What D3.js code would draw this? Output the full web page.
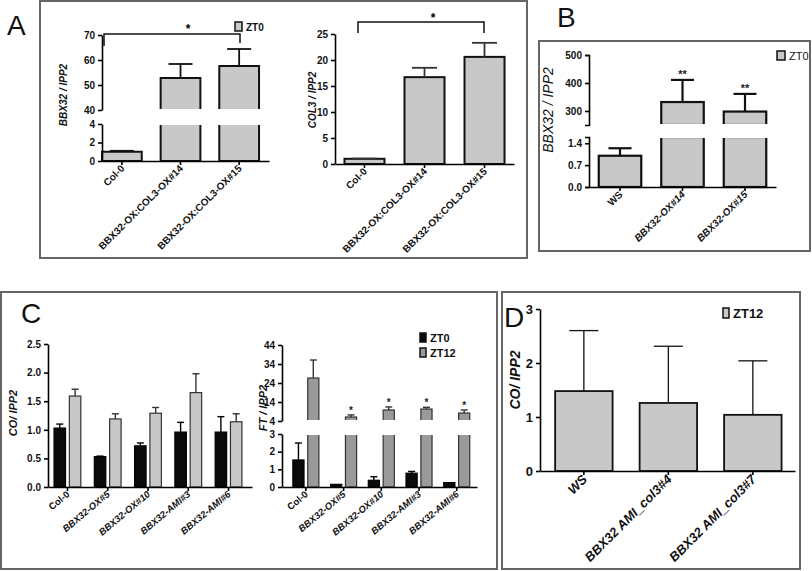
<!DOCTYPE html>
<html lang="en">
<head>
<meta charset="UTF-8">
<title>BBX32 / COL3 expression</title>
<script src="https://cdn.jsdelivr.net/npm/d3@7"></script>
<style>
  body { margin: 0; background: #fff; }
  svg { display: block; font-family: Arial, "Liberation Sans", sans-serif; }
</style>
</head>
<body>
<div id="chart"></div>
<script>
// panel A - double overexpressors, ZT0
const aLines = ["Col-0", "BBX32-OX:COL3-OX#14", "BBX32-OX:COL3-OX#15"];
const aBbx32 = [1.0, 52.8, 57.6];
const aBbx32Err = [0.1, 5.6, 6.8];
const aCol3 = [1.0, 16.7, 20.6];
const aCol3Err = [0.05, 1.8, 2.7];
const aBbx32TicksLow = [0, 2, 4];
const aBbx32TicksHigh = [40, 50, 60, 70];
const aCol3Ticks = [0, 5, 10, 15, 20, 25];

// panel B - BBX32 in OX lines, ZT0
const bLines = ["WS", "BBX32-OX#14", "BBX32-OX#15"];
const bBbx32 = [1.0, 332, 298];
const bBbx32Err = [0.24, 79, 63];
const bStars = ["", "**", "**"];
const bTicksLow = [0, 0.7, 1.4];
const bTicksHigh = [300, 400, 500];

// panel C - CO and FT at ZT0 / ZT12
const cLines = ["Col-0", "BBX32-OX#5", "BBX32-OX#10", "BBX32-AMI#3", "BBX32-AMI#6"];
const cTimes = ["ZT0", "ZT12"];
const cCoZT0 = [1.03, 0.53, 0.72, 0.96, 0.96];
const cCoZT0Err = [0.07, 0.01, 0.05, 0.17, 0.27];
const cCoZT12 = [1.59, 1.19, 1.29, 1.65, 1.14];
const cCoZT12Err = [0.12, 0.09, 0.10, 0.33, 0.14];
const cFtZT0 = [1.53, 0.15, 0.38, 0.78, 0.25];
const cFtZT0Err = [0.96, 0, 0.2, 0.1, 0];
const cFtZT12 = [26.6, 6.1, 9.8, 10.3, 8.2];
const cFtZT12Err = [9.5, 1.1, 1.6, 0.9, 1.6];
const cFtStars = ["", "*", "*", "*", "*"];
const cCoTicks = [0, 0.5, 1.0, 1.5, 2.0, 2.5];
const cFtTicksLow = [0, 1, 2, 3];
const cFtTicksHigh = [4, 14, 24, 34, 44];

// panel D - CO in AMI lines, ZT12
const dLines = ["WS", "BBX32 AMI_col3#4", "BBX32 AMI_col3#7"];
const dCo = [1.48, 1.26, 1.04];
const dCoErr = [1.12, 1.05, 1.0];
const dTicks = [0, 1, 2, 3];

const svg = d3.select("#chart").append("svg")
    .attr("width", 812)
    .attr("height", 571);
svg.append("rect").attr("width", 812).attr("height", 571).attr("fill", "#fff");

// panel frames
[[40, 1, 487, 257], [539, 41, 271, 210], [1, 292, 496, 277], [502, 292, 298, 277]].forEach(b => {
    svg.append("rect")
        .attr("x", b[0]).attr("y", b[1]).attr("width", b[2]).attr("height", b[3])
        .attr("fill", "none").attr("stroke", "#666").attr("stroke-width", 2);
});

// panel letters
[["A", 7, 35], ["B", 557, 27], ["C", 21, 323], ["D", 504, 327]].forEach(l => {
    svg.append("text").attr("x", l[1]).attr("y", l[2])
        .attr("font-size", 28).attr("fill", "#111").text(l[0]);
});

function styleAxis(ax, size) {
    ax.attr("font-family", null);
    ax.select(".domain").attr("stroke-width", 1.6);
    ax.selectAll(".tick line").attr("stroke-width", 1.6);
    ax.selectAll(".tick text").attr("font-size", size).attr("font-weight", "bold").attr("fill", "#111");
}

// generic bar chart, optionally with a broken y axis
function barChart(o) {
    const g = svg.append("g");
    const x = d3.scaleBand().domain(o.groups).range(o.xRange)
        .paddingInner(o.padIn).paddingOuter(o.padOut).align(o.align);
    const sub = d3.scaleBand().domain(o.series.map(s => s.key))
        .range([0, x.bandwidth()]).paddingInner(o.subPad || 0);
    const segs = o.segments.map(s => Object.assign({}, s, {
        y: d3.scaleLinear().domain(s.domain).range(s.range)
    }));
    const segFor = v => segs.find(s => v <= s.domain[1]) || segs[segs.length - 1];
    const base = segs[0].y(0);

    // bars
    o.series.forEach(s => {
        o.groups.forEach((grp, i) => {
            const v = s.values[i];
            const bx = x(grp) + sub(s.key);
            segs.forEach((seg, k) => {
                if (k > 0 && v <= seg.domain[0]) return;
                const top = seg.y(Math.min(v, seg.domain[1]));
                g.append("rect")
                    .attr("x", bx).attr("y", top)
                    .attr("width", sub.bandwidth())
                    .attr("height", seg.y(seg.domain[0]) - top)
                    .attr("fill", s.fill).attr("stroke", s.stroke)
                    .attr("stroke-width", o.barStroke);
            });
        });
    });

    // error bars (upper only) and stars
    o.series.forEach(s => {
        o.groups.forEach((grp, i) => {
            const v = s.values[i], e = s.errs[i];
            const cx = x(grp) + sub(s.key) + sub.bandwidth() / 2;
            const y0 = segFor(v).y(v);
            const y1 = segFor(v + e).y(v + e);
            if (e > 0) {
                g.append("line").attr("x1", cx).attr("x2", cx).attr("y1", y0).attr("y2", y1)
                    .attr("stroke", s.errColor).attr("stroke-width", o.errStroke);
                g.append("line").attr("x1", cx - o.cap / 2).attr("x2", cx + o.cap / 2)
                    .attr("y1", y1).attr("y2", y1)
                    .attr("stroke", s.errColor).attr("stroke-width", o.errStroke);
            }
            if (s.stars && s.stars[i]) {
                g.append("text").attr("x", cx).attr("y", y1 + o.starDy)
                    .attr("text-anchor", "middle").attr("font-size", o.starSize)
                    .attr("font-weight", "bold").attr("fill", "#222").text(s.stars[i]);
            }
        });
    });

    // white gap for the axis break
    for (let k = 0; k + 1 < segs.length; k++) {
        const yTop = segs[k + 1].range[0], yBot = segs[k].range[1];
        g.append("rect")
            .attr("x", o.xRange[0] + 1).attr("y", yTop - 1)
            .attr("width", o.xRange[1] - o.xRange[0]).attr("height", yBot - yTop + 2)
            .attr("fill", "#fff");
    }

    // y axes
    segs.forEach(seg => {
        const ax = g.append("g").attr("transform", `translate(${o.xRange[0]},0)`)
            .call(d3.axisLeft(seg.y).tickValues(seg.ticks).tickSize(4)
                .tickSizeOuter(o.outer || 0).tickFormat(seg.fmt || d3.format("")));
        styleAxis(ax, o.tickFont);
    });

    // x axis
    const xa = g.append("g").attr("transform", `translate(0,${base})`)
        .call(d3.axisBottom(x).tickSize(4).tickSizeOuter(0));
    styleAxis(xa, o.labelFont);
    xa.selectAll(".tick text")
        .attr("x", 0).attr("y", 0).attr("dy", o.labelDy)
        .attr("transform", `translate(0,${o.labelOffset}) rotate(${o.angle})`)
        .attr("text-anchor", "end")
        .attr("font-style", d => o.upright.includes(d) ? "normal" : "italic");

    // y label
    g.append("text")
        .attr("transform", `translate(${o.yLabel.x},${o.yLabel.y}) rotate(-90)`)
        .attr("text-anchor", "middle")
        .attr("font-size", o.yLabel.size)
        .attr("font-weight", o.yLabel.weight)
        .attr("font-style", "italic")
        .attr("fill", "#111")
        .text(o.yLabel.text);
    return { g, x, segs };
}

function legendItem(x, y, w, h, fill, label, size, weight) {
    svg.append("rect").attr("x", x).attr("y", y).attr("width", w).attr("height", h)
        .attr("fill", fill).attr("stroke", "#111").attr("stroke-width", 1.5);
    svg.append("text").attr("x", x + w + 4).attr("y", y + h)
        .attr("font-size", size).attr("font-weight", weight).attr("fill", "#111").text(label);
}

const lightGrey = "#c8c8c8";

// ---- A left
barChart({
    groups: aLines, xRange: [102, 269], padIn: 0.322, padOut: 0.085, align: 0,
    series: [{ key: "ZT0", values: aBbx32, errs: aBbx32Err, fill: lightGrey, stroke: "#111", errColor: "#111" }],
    segments: [
        { domain: [0, 4], range: [161, 124], ticks: aBbx32TicksLow },
        { domain: [40, 70], range: [110, 35], ticks: aBbx32TicksHigh }
    ],
    barStroke: 2, errStroke: 1.8, cap: 24, tickFont: 10, labelFont: 10,
    labelDy: "0.45em", labelOffset: 5, angle: -45, upright: aLines,
    yLabel: { text: "BBX32 / IPP2", x: 67, y: 95, size: 10, weight: "bold" }
});
svg.append("path").attr("d", "M104,46V34H240V43")
    .attr("fill", "none").attr("stroke", "#111").attr("stroke-width", 1.5);
svg.append("text").attr("x", 188).attr("y", 33).attr("text-anchor", "middle")
    .attr("font-size", 12).attr("font-weight", "bold").text("*");
legendItem(235, 22, 7, 9, lightGrey, "ZT0", 10, "bold");

// ---- A right
barChart({
    groups: aLines, xRange: [335, 514], padIn: 1 / 3, padOut: 0.158, align: 0.5,
    series: [{ key: "ZT0", values: aCol3, errs: aCol3Err, fill: lightGrey, stroke: "#111", errColor: "#333" }],
    segments: [{ domain: [0, 25], range: [164, 34], ticks: aCol3Ticks }],
    barStroke: 2, errStroke: 1.8, cap: 25, tickFont: 10, labelFont: 10,
    labelDy: "0.45em", labelOffset: 5, angle: -45, upright: aLines,
    yLabel: { text: "COL3 / IPP2", x: 316, y: 100, size: 10, weight: "bold" }
});
svg.append("path").attr("d", "M358,33V22H484V33")
    .attr("fill", "none").attr("stroke", "#111").attr("stroke-width", 1.5);
svg.append("text").attr("x", 433).attr("y", 22).attr("text-anchor", "middle")
    .attr("font-size", 12).attr("font-weight", "bold").text("*");

// ---- B
barChart({
    groups: bLines, xRange: [589, 776], padIn: 0.32, padOut: 0.156, align: 0.5,
    series: [{ key: "ZT0", values: bBbx32, errs: bBbx32Err, stars: bStars, fill: lightGrey, stroke: "#111", errColor: "#111" }],
    segments: [
        { domain: [0, 1.6], range: [187, 137], ticks: bTicksLow, fmt: d3.format(".1f") },
        { domain: [250, 500], range: [125, 55], ticks: bTicksHigh }
    ],
    outer: 4,
    barStroke: 2.2, errStroke: 2.2, cap: 23, tickFont: 10, labelFont: 10,
    labelDy: "0.45em", labelOffset: 5, angle: -45, upright: ["WS"],
    starDy: -2, starSize: 11,
    yLabel: { text: "BBX32 / IPP2", x: 553, y: 110, size: 14, weight: "normal" }
});
legendItem(777, 51, 8, 9, lightGrey, "ZT0", 11, "normal");

// ---- C left (CO)
barChart({
    groups: cLines, xRange: [48, 252], padIn: 0.335, padOut: 0.2, align: 0.375, subPad: 0.25,
    series: [
        { key: cTimes[0], values: cCoZT0, errs: cCoZT0Err, fill: "#0a0a0a", stroke: "#000", errColor: "#000" },
        { key: cTimes[1], values: cCoZT12, errs: cCoZT12Err, fill: lightGrey, stroke: "#333", errColor: "#333" }
    ],
    segments: [{ domain: [0, 2.5], range: [487, 344], ticks: cCoTicks, fmt: d3.format(".1f") }],
    barStroke: 1.2, errStroke: 1.4, cap: 7, tickFont: 10, labelFont: 9.5,
    labelDy: "0.45em", labelOffset: 5, angle: -40, upright: ["Col-0"],
    yLabel: { text: "CO/ IPP2", x: 17, y: 413, size: 11, weight: "bold" }
});

// ---- C right (FT)
barChart({
    groups: cLines, xRange: [282, 477], padIn: 0.31, padOut: 0.24, align: 0.6, subPad: 0.25,
    series: [
        { key: cTimes[0], values: cFtZT0, errs: cFtZT0Err, fill: "#0a0a0a", stroke: "#000", errColor: "#000" },
        { key: cTimes[1], values: cFtZT12, errs: cFtZT12Err, stars: cFtStars, fill: "#9a9a9a", stroke: "#333", errColor: "#333" }
    ],
    segments: [
        { domain: [0, 3], range: [487, 434], ticks: cFtTicksLow },
        { domain: [4, 44], range: [421, 345], ticks: cFtTicksHigh }
    ],
    barStroke: 1.2, errStroke: 1.4, cap: 7, tickFont: 10, labelFont: 9.5,
    labelDy: "0.45em", labelOffset: 5, angle: -40, upright: ["Col-0"],
    starDy: -1, starSize: 10,
    yLabel: { text: "FT / IPP2", x: 267, y: 408, size: 11, weight: "bold" }
});
legendItem(420, 333, 6, 9, "#0a0a0a", cTimes[0], 11, "bold");
legendItem(420, 348, 6, 9, "#9a9a9a", cTimes[1], 11, "bold");

// ---- D
barChart({
    groups: dLines, xRange: [540, 795], padIn: 0.32, padOut: 0.169, align: 0.53,
    series: [{ key: "ZT12", values: dCo, errs: dCoErr, fill: lightGrey, stroke: "#111", errColor: "#111" }],
    segments: [{ domain: [0, 3], range: [471, 309], ticks: dTicks }],
    barStroke: 1.8, errStroke: 1.3, cap: 29, tickFont: 13, labelFont: 13,
    labelDy: "0.45em", labelOffset: 5, angle: -45, upright: [],
    yLabel: { text: "CO/ IPP2", x: 520, y: 380, size: 14, weight: "bold" }
});
legendItem(723, 308, 6, 10, lightGrey, "ZT12", 13, "bold");
</script>
</body>
</html>
